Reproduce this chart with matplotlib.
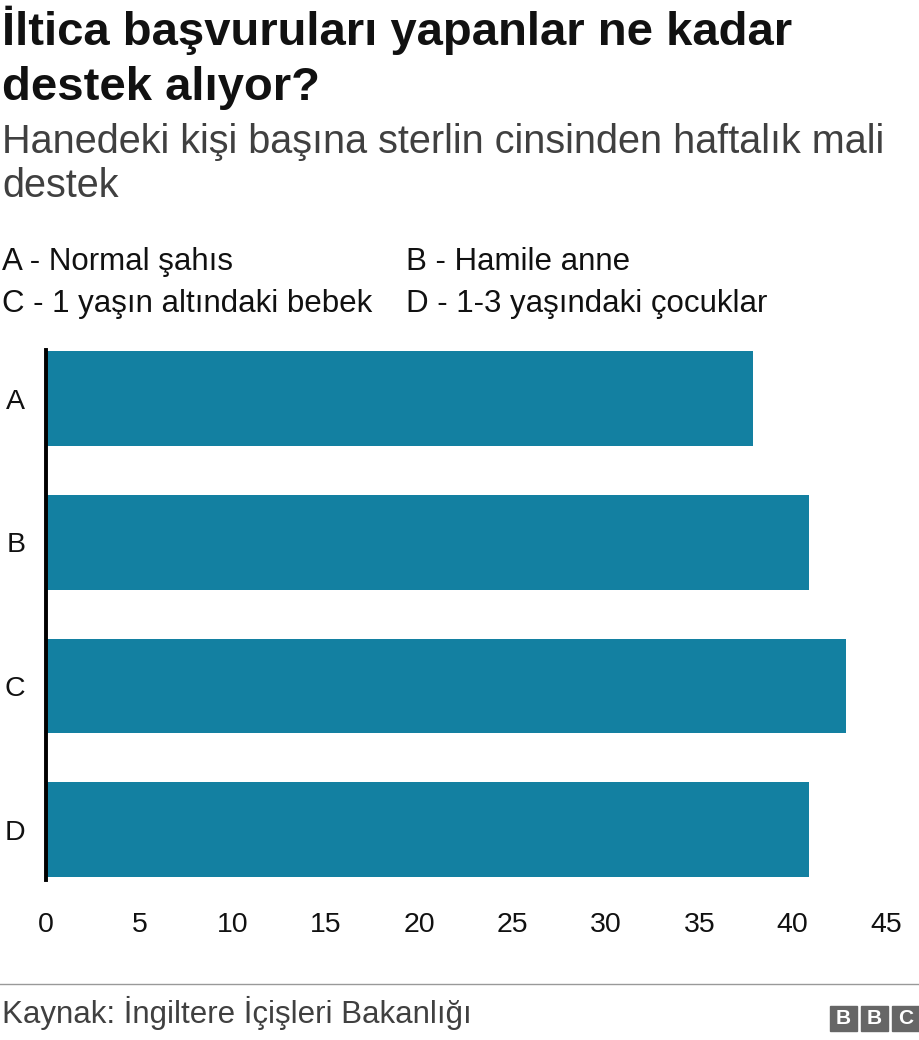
import matplotlib.pyplot as plt
from matplotlib.patches import Rectangle

plt.rcParams['font.family'] = ['Liberation Sans', 'DejaVu Sans']

# Data
categories = ["A", "B", "C", "D"]
values = [37.9, 40.9, 42.85, 40.9]
legend_labels = ["A - Normal şahıs", "B - Hamile anne",
                 "C - 1 yaşın altındaki bebek", "D - 1-3 yaşındaki çocuklar"]
xticks = [0, 5, 10, 15, 20, 25, 30, 35, 40, 45]

W, H = 920, 1040
fig = plt.figure(figsize=(W / 100, H / 100), dpi=100)

ax = fig.add_axes([46 / W, 1 - 880 / H, (886 - 46) / W, (880 - 350) / H])
ax.barh(range(len(categories)), values, height=0.66, color="#1380A1")
ax.set_xlim(0, 45)
ax.set_ylim(3.35, -0.34)
ax.set_yticks(range(len(categories)))
ax.set_yticklabels(categories, fontsize=20.5, color="#111111")
ax.set_xticks(xticks)
ax.set_xticklabels([str(t) for t in xticks], fontsize=20.5, color="#111111")
ax.tick_params(axis='both', length=0)
ax.tick_params(axis='y', pad=15)
ax.tick_params(axis='x', pad=23)
for s in ["top", "right", "bottom"]:
    ax.spines[s].set_visible(False)
ax.spines["left"].set_linewidth(2.8)
ax.spines["left"].set_color("black")

# Title and subtitle
fig.text(2 / W, 1 - 45 / H, "İltica başvuruları yapanlar ne kadar",
         fontsize=34, fontweight="bold", color="#111111", va="baseline")
fig.text(2 / W, 1 - 100 / H, "destek alıyor?",
         fontsize=34, fontweight="bold", color="#111111", va="baseline")
fig.text(2 / W, 1 - 153 / H, "Hanedeki kişi başına sterlin cinsinden haftalık mali",
         fontsize=28.5, color="#404040", va="baseline")
fig.text(2 / W, 1 - 197 / H, "destek",
         fontsize=28.5, color="#404040", va="baseline")

# Legend text
pos = [(2, 270), (406, 270), (2, 312), (406, 312)]
for (x, y), lab in zip(pos, legend_labels):
    fig.text(x / W, 1 - y / H, lab, fontsize=22.5, color="#111111", va="baseline")

# Footer
fig.add_artist(plt.Line2D([0, 1], [1 - 984 / H, 1 - 984 / H], color="#999999", lw=1))
fig.text(2 / W, 1 - 1023 / H, "Kaynak: İngiltere İçişleri Bakanlığı",
         fontsize=22.5, color="#404040", va="baseline")

# BBC logo
for i, letter in enumerate("BBC"):
    x0 = 830 + i * 31
    fig.add_artist(Rectangle((x0 / W, 1 - 1031 / H), 27 / W, 25 / H,
                             color="#666666", transform=fig.transFigure))
    fig.text((x0 + 13.5) / W, 1 - 1018.5 / H, letter, fontsize=15, fontweight="bold",
             color="white", ha="center", va="center")

fig.savefig("out.png", dpi=100)
